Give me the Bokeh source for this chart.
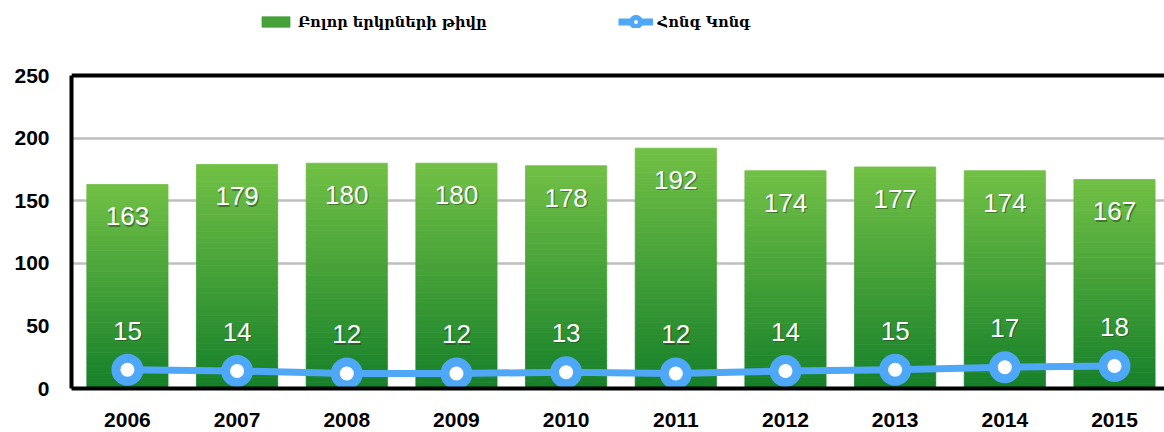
import numpy as np
from bokeh.plotting import figure
from bokeh.models import (Range1d, FixedTicker, Legend, LegendItem, Span,
                          ColumnDataSource)
from bokeh.core.properties import value
from bokeh.embed import file_html
from bokeh.resources import INLINE

years = ["2006", "2007", "2008", "2009", "2010", "2011", "2012", "2013", "2014", "2015"]
all_countries = [163, 179, 180, 180, 178, 192, 174, 177, 174, 167]
hong_kong = [15, 14, 12, 12, 13, 12, 14, 15, 17, 18]
y_ticks = [0, 50, 100, 150, 200, 250]
grid_ticks = [100, 150, 200]
y_max = 250

label_all = "Բոլոր երկրների թիվը"
label_hk = "Հոնգ Կոնգ"

x = list(range(len(years)))

p = figure(width=1164, height=432, output_backend="svg", toolbar_location=None,
           x_range=Range1d(-0.51, 9.456), y_range=Range1d(0, 310),
           min_border_left=71, min_border_right=0, min_border_top=0,
           min_border_bottom=44)
p.outline_line_color = None
p.background_fill_color = "white"

# gradient bars built from strips
n = 40
c_bot = np.array([22, 128, 42])
c_top = np.array([114, 193, 70])
lefts, rights, bots, tops, cols = [], [], [], [], []
bw = 0.74
for xi, v in zip(x, all_countries):
    for i in range(n):
        t = (i + 0.5) / n
        c = (c_bot + (c_top - c_bot) * t).astype(int)
        lefts.append(xi - bw / 2)
        rights.append(xi + bw / 2)
        bots.append(v * i / n)
        tops.append(v * (i + 1) / n)
        cols.append("#%02x%02x%02x" % tuple(c))
bars = p.quad(left=lefts, right=rights, bottom=bots, top=tops, fill_color=cols,
              line_color=cols, line_width=0.8)

# line series
blue = "#4fa8f7"
ln = p.line(x, hong_kong, line_color=blue, line_width=7)
cr = p.scatter(x, hong_kong, size=23, fill_color="white", line_color=blue,
               line_width=9)

# data labels with shadow
src = ColumnDataSource(dict(x=x, v=all_countries, h=hong_kong,
                            vt=[str(a) for a in all_countries],
                            ht=[str(a) for a in hong_kong]))
for dx, dy, col, alpha in [(1.2, 1.2, "#1f3d1a", 0.5), (0, 0, "white", 1.0)]:
    p.text(x="x", y="v", text="vt", source=src, x_offset=dx, y_offset=32 + dy,
           text_color=col, text_alpha=alpha, text_align="center",
           text_baseline="middle", text_font=value("Liberation Sans"),
           text_font_size="26px")
    p.text(x="x", y="h", text="ht", source=src, x_offset=dx, y_offset=-39 + dy,
           text_color=col, text_alpha=alpha, text_align="center",
           text_baseline="middle", text_font=value("Liberation Sans"),
           text_font_size="26px")

# grid
p.xgrid.visible = False
p.ygrid.ticker = FixedTicker(ticks=grid_ticks)
p.ygrid.grid_line_color = "#bfbfbf"
p.ygrid.grid_line_width = 2.5

# top border of the chart area
p.add_layout(Span(location=y_max, dimension="width", line_color="black",
                  line_width=4))

# axes
p.yaxis.ticker = FixedTicker(ticks=y_ticks)
p.yaxis.bounds = (0, y_max)
p.yaxis.axis_line_color = "black"
p.yaxis.axis_line_width = 4
p.yaxis.major_tick_line_color = None
p.yaxis.minor_tick_line_color = None
p.yaxis.major_label_standoff = 16
p.yaxis.major_label_text_font = "Liberation Sans"
p.yaxis.major_label_text_font_style = "bold"
p.yaxis.major_label_text_font_size = "21px"
p.yaxis.major_label_text_color = "black"

p.xaxis.ticker = FixedTicker(ticks=x)
p.xaxis.major_label_overrides = {i: y for i, y in zip(x, years)}
p.xaxis.axis_line_color = "black"
p.xaxis.axis_line_width = 4
p.xaxis.major_tick_line_color = None
p.xaxis.minor_tick_line_color = None
p.xaxis.major_label_standoff = 18
p.xaxis.major_label_text_font = "Liberation Sans"
p.xaxis.major_label_text_font_style = "bold"
p.xaxis.major_label_text_font_size = "21px"
p.xaxis.major_label_text_color = "black"

legend = Legend(items=[LegendItem(label=label_all, renderers=[bars], index=n // 2),
                       LegendItem(label=label_hk, renderers=[ln, cr])],
                orientation="horizontal", location=(187, 358),
                spacing=131, padding=0, margin=0, glyph_width=35, glyph_height=13,
                label_standoff=5, border_line_color=None,
                background_fill_alpha=0, label_text_font="DejaVu Serif",
                label_text_font_style="bold", label_text_font_size="14.5px",
                label_text_color="black")
p.add_layout(legend, "center")

open("out.html", "w").write(file_html(p, INLINE))
